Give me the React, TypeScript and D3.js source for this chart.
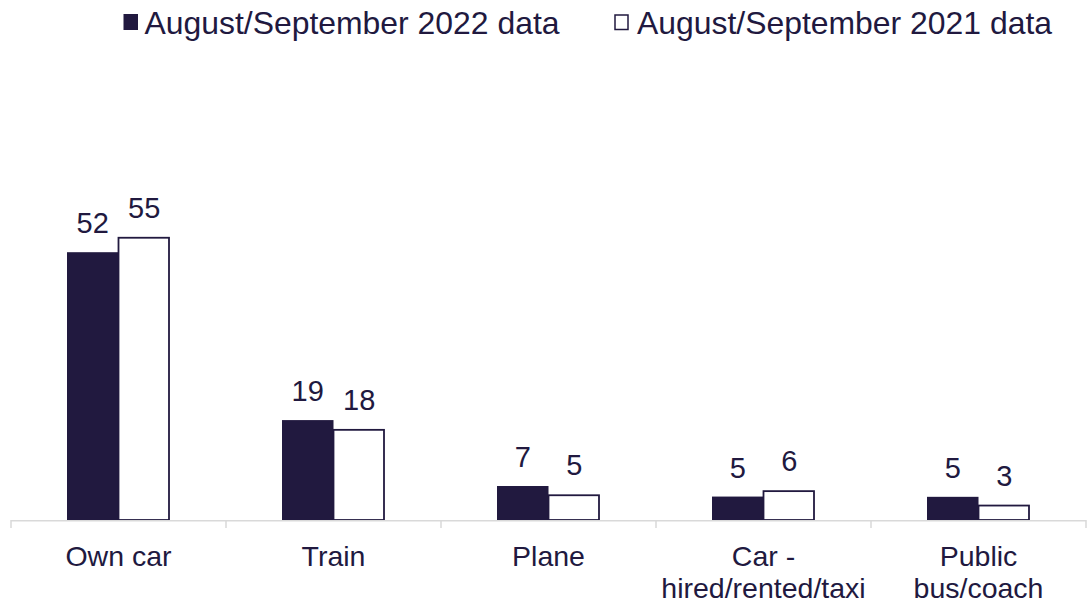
import React from "react";
import * as d3 from "d3";

const categories: string[][] = [
  ["Own car"],
  ["Train"],
  ["Plane"],
  ["Car -", "hired/rented/taxi"],
  ["Public", "bus/coach"],
];
const values2022: number[] = [52, 19.4, 6.6, 4.55, 4.5];
const values2021: number[] = [55, 17.7, 5.0, 5.8, 3.0];
const seriesNames: string[] = ["August/September 2022 data", "August/September 2021 data"];

const NAVY = "#21193f";
const AXIS = "#d9d9d9";
const FONT = "'Liberation Sans', Arial, sans-serif";

export default function App() {
  const W = 1087;
  const H = 603;
  const x0 = 11;
  const x1 = 1086;
  const baseY = 520;

  const x = d3
    .scaleBand<number>()
    .domain(categories.map((_, i) => i))
    .range([x0, x1])
    .paddingInner(0)
    .paddingOuter(0);
  const y = d3.scaleLinear().domain([0, 60]).range([baseY, baseY - 309]);
  const barW = 51.5;

  const ticks = d3.range(categories.length + 1).map((i) => x0 + i * x.bandwidth());

  return (
    <svg
      width={W}
      height={H}
      style={{ position: "absolute", left: 0, top: 0, background: "#fff" }}
      fontFamily={FONT}
    >
      {/* Legend */}
      <g fill={NAVY} fontSize={32}>
        <rect x={123.5} y={14} width={14.5} height={16} fill={NAVY} />
        <text x={144.5} y={33.5} textLength={415} lengthAdjust="spacingAndGlyphs">{seriesNames[0]}</text>
        <rect x={615} y={15} width={13} height={14.5} fill="#fff" stroke={NAVY} strokeWidth={1.5} />
        <text x={637} y={33.5} textLength={415} lengthAdjust="spacingAndGlyphs">{seriesNames[1]}</text>
      </g>

      {/* Bars */}
      {categories.map((_, i) => {
        const c = (x(i) as number) + x.bandwidth() / 2;
        const v1 = values2022[i];
        const v2 = values2021[i];
        return (
          <g key={i}>
            <rect x={c - barW} y={y(v1)} width={barW} height={baseY - y(v1)} fill={NAVY} />
            <rect
              x={c}
              y={y(v2) + 1}
              width={barW - 1}
              height={baseY - y(v2) - 1}
              fill="#fff"
              stroke={NAVY}
              strokeWidth={1.8}
            />
            <text
              x={c - barW / 2}
              y={y(v1) - 19}
              textAnchor="middle"
              fontSize={29}
              fill={NAVY}
            >
              {Math.round(v1)}
            </text>
            <text
              x={c + barW / 2}
              y={y(v2) - 19}
              textAnchor="middle"
              fontSize={29}
              fill={NAVY}
            >
              {Math.round(v2)}
            </text>
          </g>
        );
      })}

      {/* Axis */}
      <line x1={x0} x2={x1} y1={baseY + 0.75} y2={baseY + 0.75} stroke={AXIS} strokeWidth={1.5} />
      {ticks.map((t, i) => (
        <line key={i} x1={t} x2={t} y1={baseY} y2={baseY + 8} stroke={AXIS} strokeWidth={1.5} />
      ))}

      {/* Category labels */}
      {categories.map((lines, i) => {
        const c = (x(i) as number) + x.bandwidth() / 2;
        return (
          <text key={i} x={c} y={565.5} textAnchor="middle" fontSize={28.5} fill={NAVY}>
            {lines.map((l, j) => (
              <tspan key={j} x={c} dy={j === 0 ? 0 : 32}>
                {l}
              </tspan>
            ))}
          </text>
        );
      })}
    </svg>
  );
}
